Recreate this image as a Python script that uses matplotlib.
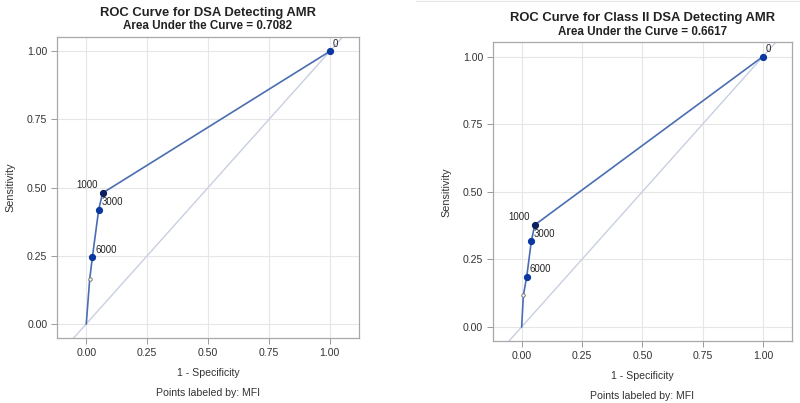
import matplotlib.pyplot as plt
from matplotlib.lines import Line2D

plt.rcParams['font.family'] = ['Liberation Sans', 'DejaVu Sans']

# ROC points (1 - specificity, sensitivity), labeled by MFI cutoff
left_fpr = [0.0, 0.014, 0.025, 0.051, 0.067, 1.0]
left_tpr = [0.0, 0.163, 0.244, 0.419, 0.480, 1.0]
right_fpr = [0.0, 0.007, 0.021, 0.040, 0.054, 1.0]
right_tpr = [0.0, 0.117, 0.186, 0.317, 0.377, 1.0]
point_labels = ['', '', '6000', '3000', '1000', '0']

titles = ["ROC Curve for DSA Detecting AMR",
          "ROC Curve for Class II DSA Detecting AMR"]
auc_values = [0.7082, 0.6617]
ticks = [0.0, 0.25, 0.5, 0.75, 1.0]

LINE = '#4a6db3'
MARK = '#0b37a0'
DARK = '#0d1f5c'


def draw_roc(ax, fpr, tpr, title, auc):
    ax.set_xlim(-0.12, 1.12)
    ax.set_ylim(-0.053, 1.053)
    ax.axline((0, 0), slope=1, color='#c9cfe2', lw=1.0, zorder=1)
    ax.plot(fpr, tpr, color=LINE, lw=1.2, zorder=2)
    for x, y, lab in zip(fpr, tpr, point_labels):
        if lab == '':
            if x > 0:
                ax.plot(x, y, 'o', ms=2.5, mfc='white', mec='#777777',
                        mew=0.7, zorder=3)
            continue
        col = DARK if lab == '1000' else MARK
        ax.plot(x, y, 'o', ms=4.2, color=col, zorder=3)
        if lab == '1000':
            ax.annotate(lab, (x, y), xytext=(-3.2, 5.5), textcoords='offset points',
                        ha='right', va='center', fontsize=6.9, color='#222222')
        else:
            ax.annotate(lab, (x, y), xytext=(2, 5.5), textcoords='offset points',
                        ha='left', va='center', fontsize=6.9, color='#222222')
    ax.set_xticks(ticks)
    ax.set_yticks(ticks)
    ax.set_xticklabels([f"{t:.2f}" for t in ticks])
    ax.set_yticklabels([f"{t:.2f}" for t in ticks])
    ax.tick_params(labelsize=7.6, colors='#333333', length=4, width=0.7,
                   color='#999999', pad=3)
    ax.grid(True, color='#e6e6e6', lw=0.8)
    ax.set_axisbelow(True)
    for s in ax.spines.values():
        s.set_color('#a8a8a8')
        s.set_linewidth(0.9)
    ax.set_ylabel('Sensitivity', fontsize=7.8, color='#333333', labelpad=8)
    ax.set_xlabel('1 - Specificity\n\nPoints labeled by: MFI', fontsize=7.6,
                  color='#333333', labelpad=7.5, linespacing=1.0)
    ax.set_title(title, fontsize=9.4, fontweight='bold', color='#222222',
                 pad=15)
    ax.text(0.5, 1.015, f"Area Under the Curve = {auc:.4f}",
            transform=ax.transAxes, ha='center', va='bottom',
            fontsize=8.4, fontweight='bold', color='#222222')


fig = plt.figure(figsize=(8.0, 4.03), dpi=100)
ax1 = fig.add_axes([0.0713, 0.1605, 0.3775, 0.748])
ax2 = fig.add_axes([0.6159, 0.1533, 0.374, 0.742])

draw_roc(ax1, left_fpr, left_tpr, titles[0], auc_values[0])
draw_roc(ax2, right_fpr, right_tpr, titles[1], auc_values[1])

fig.add_artist(Line2D([0.52, 1.0], [0.997, 0.997], color='#e4e4e4', lw=0.8))

fig.savefig('out.png', dpi=100)
